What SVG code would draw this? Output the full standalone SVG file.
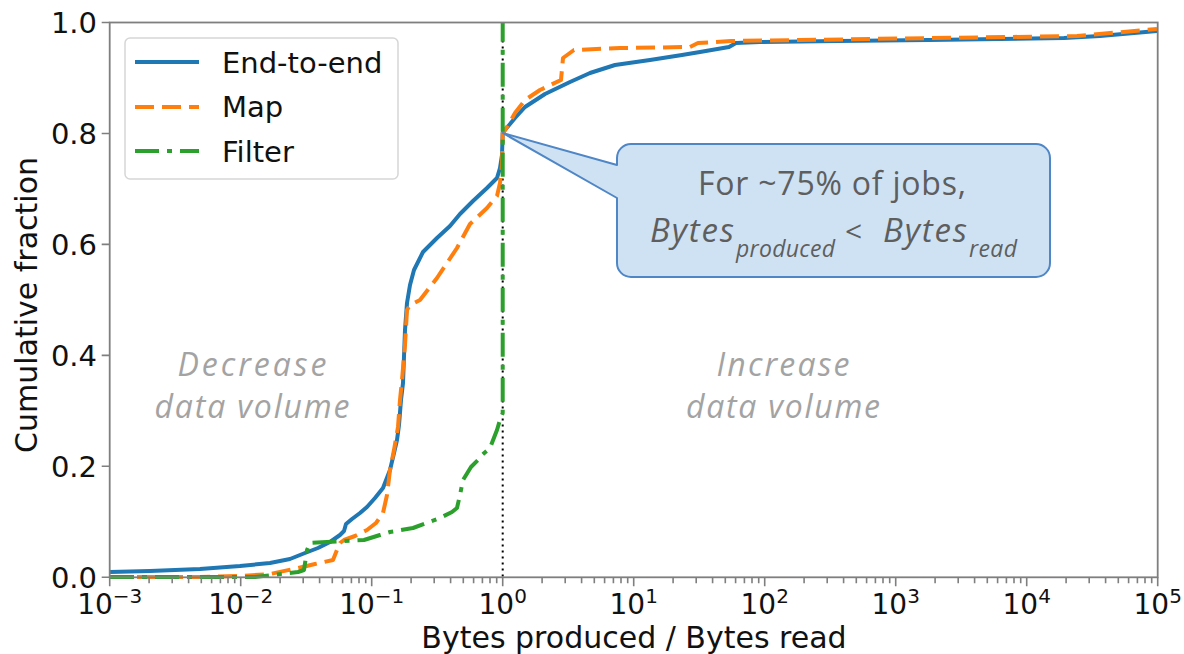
<svg xmlns="http://www.w3.org/2000/svg" width="1184" height="654" viewBox="0 0 1184 654">
  <style>
    .tick { stroke: #7f7f7f; stroke-width: 1.6; fill: none; }
    .spine { stroke: #7f7f7f; stroke-width: 1.8; fill: none; }
    .lbl { font-family: "DejaVu Sans", sans-serif; fill: #111; }
    .curve { fill: none; stroke-width: 4; stroke-linejoin: round; }
    .e2e { stroke: #1f77b4; }
    .map { stroke: #ff7f0e; stroke-dasharray: 19 8; }
    .filter { stroke: #2ca02c; stroke-dasharray: 24 8 5 8; }
    .region { font-family: "Open Sans", Lato, sans-serif; font-style: italic; font-size: 32px; fill: #a3a3a3; text-anchor: middle; }
    .note { font-family: "Open Sans", Lato, sans-serif; fill: #5e5e5e; }
    .it { font-style: italic; }
  </style>

  <rect width="1184" height="654" fill="#fff"/>

  <!-- x = 10^0 reference line -->
  <line id="unity" x1="502.7" y1="22.5" x2="502.7" y2="577.3" stroke="#000" stroke-width="2" stroke-dasharray="2 4"/>

  <!-- data curves -->
  <g id="curves">
    <polyline id="end-to-end" class="curve e2e" points="110,572 150,571 200,569 240,566 270,563 290,559 305,553 318,548 330,542 340,535 344,531 346,524 352,519 360,513 367,507 375,498 383,488 390,470 394,453 397,440 399,425 401,400 403,383 405,330 407,303 410,285 414,270 423,252 437,238 450,226 460,214 473,201 487,188 497,178 500,168 502,155 502.7,133 505,130 515,118 525,107 545,94 570,82 590,73 615,65 650,60 682,55 700,52 729,47 736,43 760,42 839,41 929,40 1064,38 1100,36 1157,31"/>
    <polyline id="map" class="curve map" points="110,577 200,577 240,576 270,574 298,568 315,564 333,560 337,550 340,543 344,540 355,536 367,530 376,523 383,513 387,495 390,470 394,450 398,427 400,400 402,380 405,345 407,310 410,305 420,300 437,278 457,248 470,224 487,208 497,196 500,183 502,165 502.7,133 507,127 515,113 525,100 540,90 561,80 563,58 574,50 620,48 690,47 698,43 731,41 800,40 1077,36 1157,29"/>
    <polyline id="filter" class="curve filter" points="110,577 255,577 298,572 304,570 307,550 310,543 344,541 364,540 380,535 390,532 413,528 440,518 452,512 457,508 460,495 463,480 471,467 478,460 482,455 490,448 497,430 500,420 502.7,413 502.7,22.5"/>
  </g>

  <!-- axes frame and ticks -->
  <g id="axes">
    <rect class="spine" x="109.7" y="22.5" width="1048" height="554.8"/>
    <path class="tick" d="M109.7 577.3v9M240.7 577.3v9M371.7 577.3v9M502.7 577.3v9M633.7 577.3v9M764.7 577.3v9M895.7 577.3v9M1026.7 577.3v9M1157.7 577.3v9"/>
    <path class="tick" d="M149.1 577.3v6M172.2 577.3v6M188.6 577.3v6M201.3 577.3v6M211.6 577.3v6M220.4 577.3v6M228 577.3v6M234.7 577.3v6
      M280.1 577.3v6M303.2 577.3v6M319.6 577.3v6M332.3 577.3v6M342.6 577.3v6M351.4 577.3v6M359 577.3v6M365.7 577.3v6
      M411.1 577.3v6M434.2 577.3v6M450.6 577.3v6M463.3 577.3v6M473.6 577.3v6M482.4 577.3v6M490 577.3v6M496.7 577.3v6
      M542.1 577.3v6M565.2 577.3v6M581.6 577.3v6M594.3 577.3v6M604.6 577.3v6M613.4 577.3v6M621 577.3v6M627.7 577.3v6
      M673.1 577.3v6M696.2 577.3v6M712.6 577.3v6M725.3 577.3v6M735.6 577.3v6M744.4 577.3v6M752 577.3v6M758.7 577.3v6
      M804.1 577.3v6M827.2 577.3v6M843.6 577.3v6M856.3 577.3v6M866.6 577.3v6M875.4 577.3v6M883 577.3v6M889.7 577.3v6
      M935.1 577.3v6M958.2 577.3v6M974.6 577.3v6M987.3 577.3v6M997.6 577.3v6M1006.4 577.3v6M1014 577.3v6M1020.7 577.3v6
      M1066.1 577.3v6M1089.2 577.3v6M1105.6 577.3v6M1118.3 577.3v6M1128.6 577.3v6M1137.4 577.3v6M1145 577.3v6M1151.7 577.3v6"/>
    <path class="tick" d="M109.7 577.3h-8M109.7 466.3h-8M109.7 355.4h-8M109.7 244.4h-8M109.7 133.5h-8M109.7 22.5h-8"/>

    <g class="lbl" font-size="29" text-anchor="end">
      <text x="97" y="588">0.0</text>
      <text x="97" y="477">0.2</text>
      <text x="97" y="366">0.4</text>
      <text x="97" y="255">0.6</text>
      <text x="97" y="144">0.8</text>
      <text x="97" y="33">1.0</text>
    </g>
    <g class="lbl" font-size="28" text-anchor="middle">
      <text x="109.7" y="614">10<tspan dy="-11" font-size="20">−3</tspan></text>
      <text x="240.7" y="614">10<tspan dy="-11" font-size="20">−2</tspan></text>
      <text x="371.7" y="614">10<tspan dy="-11" font-size="20">−1</tspan></text>
      <text x="502.7" y="614">10<tspan dy="-11" font-size="20">0</tspan></text>
      <text x="633.7" y="614">10<tspan dy="-11" font-size="20">1</tspan></text>
      <text x="764.7" y="614">10<tspan dy="-11" font-size="20">2</tspan></text>
      <text x="895.7" y="614">10<tspan dy="-11" font-size="20">3</tspan></text>
      <text x="1026.7" y="614">10<tspan dy="-11" font-size="20">4</tspan></text>
      <text x="1157.7" y="614">10<tspan dy="-11" font-size="20">5</tspan></text>
    </g>
    <text class="lbl" x="634" y="648" font-size="30" text-anchor="middle">Bytes produced / Bytes read</text>
    <text class="lbl" x="0" y="0" font-size="30" text-anchor="middle" transform="translate(37 305) rotate(-90)">Cumulative fraction</text>
  </g>

  <!-- legend -->
  <g id="legend">
    <rect x="125" y="38" width="273" height="141" rx="5" fill="#fff" fill-opacity="0.8" stroke="#d6d6d6" stroke-width="1.5"/>
    <line class="curve e2e" x1="135" y1="62" x2="199" y2="62"/>
    <line class="curve map" x1="135" y1="107" x2="199" y2="107"/>
    <line class="curve filter" x1="135" y1="151" x2="199" y2="151"/>
    <g class="lbl" font-size="29">
      <text x="222" y="73">End-to-end</text>
      <text x="222" y="117">Map</text>
      <text x="222" y="162">Filter</text>
    </g>
  </g>

  <!-- region labels -->
  <g id="regions">
    <text class="region" x="252" y="376" textLength="149">Decrease</text>
    <text class="region" x="252" y="418" textLength="195">data volume</text>
    <text class="region" x="783" y="376" textLength="133">Increase</text>
    <text class="region" x="783" y="418" textLength="194">data volume</text>
  </g>

  <!-- speech-bubble note pointing at the crossing point -->
  <g id="callout">
    <path d="M617 198 L617 263 A14 14 0 0 0 631 277 L1036 277 A14 14 0 0 0 1050 263 L1050 158 A14 14 0 0 0 1036 144 L631 144 A14 14 0 0 0 617 158 L617 165 L502.7 133 Z" fill="#cfe2f3" stroke="#4f86c6" stroke-width="2" stroke-linejoin="round"/>
    <text class="note" x="832" y="195" font-size="32" text-anchor="middle" textLength="268">For ~75% of jobs,</text>
    <text class="note it" x="650" y="242" font-size="33" textLength="84">Bytes</text>
    <text class="note it" x="736" y="257" font-size="23" textLength="99">produced</text>
    <text class="note" x="845" y="242" font-size="30">&lt;</text>
    <text class="note it" x="883" y="242" font-size="33" textLength="84">Bytes</text>
    <text class="note it" x="969" y="257" font-size="23" textLength="48">read</text>
  </g>
</svg>
